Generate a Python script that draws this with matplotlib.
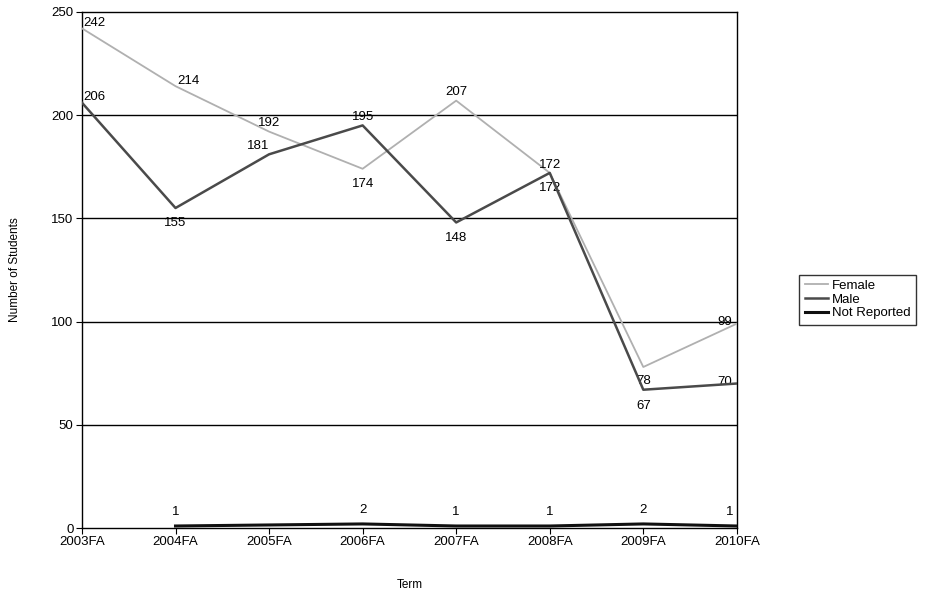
import numpy as np
import matplotlib.pyplot as plt

plt.rcParams['font.family'] = ['Liberation Sans', 'DejaVu Sans']

terms = ['2003FA', '2004FA', '2005FA', '2006FA', '2007FA', '2008FA', '2009FA', '2010FA']
female = [242, 214, 192, 174, 207, 172, 78, 99]
male = [206, 155, 181, 195, 148, 172, 67, 70]
not_reported = [np.nan, 1, np.nan, 2, 1, 1, 2, 1]

# label offsets in points (dx, dy) for each point
female_off = [(9, 4), (9, 4), (0, 6), (0, -11), (0, 6), (0, 6), (0, -10), (-9, 1)]
male_off = [(9, 4), (0, -11), (-8, 6), (0, 6), (0, -11), (0, -11), (0, -12), (-9, 1)]
nr_off = [(0, 10)] * 7 + [(-5, 10)]

fig = plt.figure(figsize=(9.25, 5.92), dpi=100)
ax = fig.add_axes([0.0886, 0.108, 0.708, 0.872])

x = np.arange(len(terms))
ax.plot(x, female, color='#b0b0b0', lw=1.3, label='Female', zorder=3)
ax.plot(x, male, color='#4a4a4a', lw=1.8, label='Male', zorder=4)
nr = np.array(not_reported)
ok = ~np.isnan(nr)
ax.plot(x[ok], nr[ok], color='#101010', lw=2.2, label='Not Reported', zorder=5)

fs = 9.5
for i in range(len(terms)):
    ax.annotate(str(female[i]), (x[i], female[i]), xytext=female_off[i],
                textcoords='offset points', ha='center', va='center', fontsize=fs)
    ax.annotate(str(male[i]), (x[i], male[i]), xytext=male_off[i],
                textcoords='offset points', ha='center', va='center', fontsize=fs)
    if ok[i]:
        ax.annotate(str(int(nr[i])), (x[i], nr[i]), xytext=nr_off[i],
                    textcoords='offset points', ha='center', va='center', fontsize=fs)

ax.set_xlim(0, len(terms) - 1)
ax.set_ylim(0, 250)
ax.set_xticks(x)
ax.set_xticklabels(terms, fontsize=fs)
ax.set_yticks([0, 50, 100, 150, 200, 250])
ax.tick_params(axis='y', labelsize=fs, length=4, direction='out', pad=2)
ax.tick_params(axis='x', length=4, direction='out', pad=2)
for v in [50, 100, 150, 200]:
    ax.axhline(v, color='black', lw=1.0, zorder=1)
for s in ax.spines.values():
    s.set_linewidth(1.0)

ax.set_xlabel('Term', fontsize=8.5, labelpad=22)
ax.set_ylabel('Number of Students', fontsize=8.5, labelpad=22)

leg = fig.legend(loc='center left', bbox_to_anchor=(0.857, 0.494), fontsize=fs,
                 frameon=True, fancybox=False, edgecolor='black', handlelength=1.8,
                 handletextpad=0.3, borderpad=0.4, labelspacing=0.1)
leg.get_frame().set_linewidth(1.0)

fig.savefig('out.png', dpi=100)
